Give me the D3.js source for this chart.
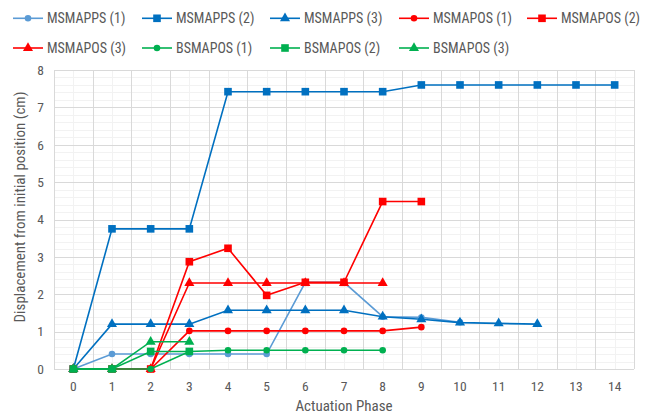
<!DOCTYPE html>
<html><head><meta charset="utf-8">
<script src="https://cdn.jsdelivr.net/npm/d3@7"></script>
<style>
body{margin:0;background:#fff;}
svg{display:block;}
text{font-family:"Liberation Sans Narrow","Roboto Condensed","Liberation Sans",Arial,sans-serif;fill:#595959;}
</style></head>
<body>
<svg id="chart" width="652" height="417"></svg>
<script>
const categories = ["0","1","2","3","4","5","6","7","8","9","10","11","12","13","14"];
const yTicks = [0,1,2,3,4,5,6,7,8];
const seriesNames = ["MSMAPPS (1)","MSMAPPS (2)","MSMAPPS (3)","MSMAPOS (1)","MSMAPOS (2)","MSMAPOS (3)","BSMAPOS (1)","BSMAPOS (2)","BSMAPOS (3)"];
const msmapps1 = [0,0.4,0.4,0.4,0.4,0.4,2.32,2.32,1.4,1.38,1.25];
const msmapps2 = [0,3.75,3.75,3.75,7.42,7.42,7.42,7.42,7.42,7.6,7.6,7.6,7.6,7.6,7.6];
const msmapps3 = [0,1.2,1.2,1.2,1.57,1.57,1.57,1.57,1.4,1.33,1.24,1.22,1.2];
const msmapos1 = [0,0,0,1.02,1.02,1.02,1.02,1.02,1.02,1.12];
const msmapos2 = [0,0,0,2.87,3.23,1.97,2.32,2.32,4.48,4.48];
const msmapos3 = [0,0,0,2.3,2.3,2.3,2.3,2.3,2.3];
const bsmapos1 = [0,0,0,0.47,0.5,0.5,0.5,0.5,0.5];
const bsmapos2 = [0,0,0.47,0.47];
const bsmapos3 = [0,0,0.73,0.73];

const colors = ["#5B9BD5","#0070C0","#0070C0","#FF0000","#FF0000","#FF0000","#00B050","#00B050","#00B050"];
const symbols = [d3.symbolCircle,d3.symbolSquare,d3.symbolTriangle,d3.symbolCircle,d3.symbolSquare,d3.symbolTriangle,d3.symbolCircle,d3.symbolSquare,d3.symbolTriangle];
const symSize = {circle:34, square:58, triangle:44};
const allValues = [msmapps1,msmapps2,msmapps3,msmapos1,msmapos2,msmapos3,bsmapos1,bsmapos2,bsmapos3];
const series = seriesNames.map((n,i)=>({name:n,color:colors[i],symbol:symbols[i],values:allValues[i]}));

const svg = d3.select("#chart");
const L=54,R=634,T=70,B=369;
const x = d3.scaleBand().domain(categories).range([L,R]).paddingInner(0).paddingOuter(0);
const y = d3.scaleLinear().domain([0,8]).range([B,T]);
const cx = c => x(c)+x.bandwidth()/2;
function sz(s){return s===d3.symbolCircle?symSize.circle:(s===d3.symbolSquare?symSize.square:symSize.triangle);}

const grid = svg.append("g");
d3.range(0,8.001,0.2).forEach(v=>{
  grid.append("line").attr("x1",L).attr("x2",R).attr("y1",Math.round(y(v))+0.5).attr("y2",Math.round(y(v))+0.5).attr("stroke","#F2F2F2");
});
categories.forEach(c=>{
  grid.append("line").attr("x1",Math.round(cx(c))+0.5).attr("x2",Math.round(cx(c))+0.5).attr("y1",T).attr("y2",B).attr("stroke","#F2F2F2");
});
yTicks.forEach(v=>{
  grid.append("line").attr("x1",L).attr("x2",R).attr("y1",Math.round(y(v))+0.5).attr("y2",Math.round(y(v))+0.5).attr("stroke","#D9D9D9");
});
categories.concat(["end"]).forEach((c,i)=>{
  const xv = i<categories.length ? x(c) : R;
  grid.append("line").attr("x1",Math.round(xv)+0.5).attr("x2",Math.round(xv)+0.5).attr("y1",T).attr("y2",B).attr("stroke","#D9D9D9");
});

const yAxis = svg.append("g").attr("transform",`translate(${L-6},0)`)
  .call(d3.axisLeft(y).tickValues(yTicks).tickSize(0).tickPadding(4));
yAxis.select(".domain").remove();
yAxis.selectAll("text").attr("font-size",13.5).attr("fill","#595959");
const xAxis = svg.append("g").attr("transform",`translate(0,${B+8})`)
  .call(d3.axisBottom(x).tickSize(0).tickPadding(4));
xAxis.select(".domain").remove();
xAxis.selectAll("text").attr("font-size",13.5).attr("fill","#595959");
svg.selectAll(".tick text").attr("font-family",null);

const line = d3.line().x((d,i)=>cx(categories[i])).y(d=>y(d));
series.forEach(s=>{
  const g = svg.append("g");
  g.append("path").attr("d",line(s.values)).attr("fill","none").attr("stroke",s.color).attr("stroke-width",1.6);
  g.selectAll("path.m").data(s.values).enter().append("path").attr("class","m")
    .attr("d",d3.symbol().type(s.symbol).size(sz(s.symbol)))
    .attr("transform",(d,i)=>`translate(${cx(categories[i])},${y(d)})`)
    .attr("fill",s.color);
});

const colX = [13,142,270,399,527];
const rowY = [18.3,48];
series.forEach((s,i)=>{
  const col = i<5 ? i : i-5, row = i<5?0:1;
  const g = svg.append("g").attr("transform",`translate(${colX[col]},${rowY[row]})`);
  g.append("line").attr("x1",0).attr("x2",30).attr("y1",0).attr("y2",0).attr("stroke",s.color).attr("stroke-width",1.6);
  g.append("path").attr("d",d3.symbol().type(s.symbol).size(sz(s.symbol))).attr("transform","translate(15,0)").attr("fill",s.color);
  g.append("text").attr("x",34).attr("y",0).attr("dy","0.35em").attr("font-size",14).text(s.name);
});

svg.append("text").attr("x",(L+R)/2).attr("y",411).attr("text-anchor","middle").attr("font-size",15).text("Actuation Phase");
svg.append("text").attr("transform",`translate(25,${207}) rotate(-90)`).attr("text-anchor","middle").attr("font-size",15).text("Displacement from initial position (cm)");
</script>
</body></html>
